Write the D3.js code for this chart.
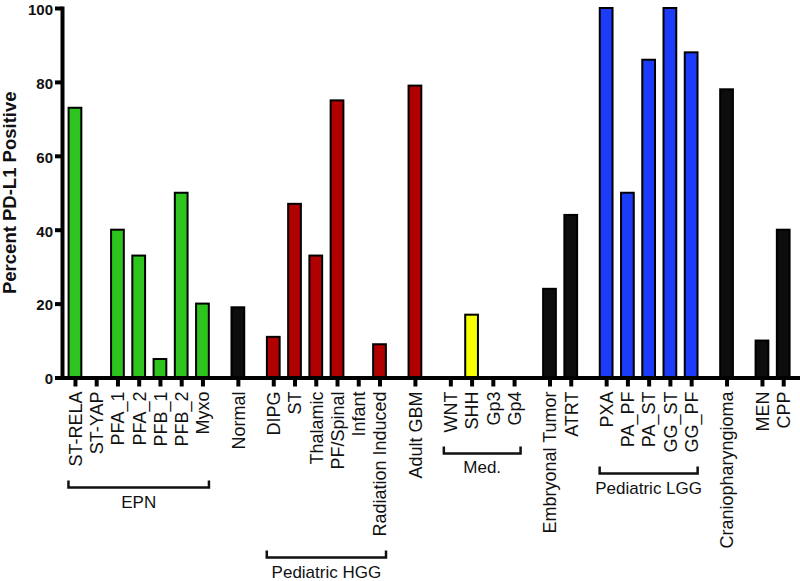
<!DOCTYPE html>
<html>
<head>
<meta charset="utf-8">
<script src="https://cdn.jsdelivr.net/npm/d3@7"></script>
<style>
  body { margin: 0; background: #fff; }
  svg { display: block; font-family: "Liberation Sans", Arial, sans-serif; }
</style>
</head>
<body>
<div id="chart"></div>
<script>
const categories = [
  "ST-RELA", "ST-YAP", "PFA_1", "PFA_2", "PFB_1", "PFB_2", "Myxo",
  "Normal",
  "DIPG", "ST", "Thalamic", "PF/Spinal", "Infant", "Radiation Induced",
  "Adult GBM",
  "WNT", "SHH", "Gp3", "Gp4",
  "Embryonal Tumor", "ATRT",
  "PXA", "PA_PF", "PA_ST", "GG_ST", "GG_PF",
  "Craniopharyngioma",
  "MEN", "CPP",
];
const percentPositive = [
  73, 0, 40, 33, 5, 50, 20,
  19,
  11, 47, 33, 75, 0, 9,
  79,
  0, 17, 0, 0,
  24, 44,
  100, 50, 86, 100, 88,
  78,
  10, 40,
];
const clusters = [
  "EPN", "EPN", "EPN", "EPN", "EPN", "EPN", "EPN",
  "Normal",
  "HGG", "HGG", "HGG", "HGG", "HGG", "HGG",
  "GBM",
  "Med", "Med", "Med", "Med",
  "Embryonal", "Embryonal",
  "LGG", "LGG", "LGG", "LGG", "LGG",
  "Cranio",
  "Other", "Other",
];
const groupNames = ["EPN", "Pediatric HGG", "Med.", "Pediatric LGG"];
const groupFirst = ["ST-RELA", "DIPG", "WNT", "PXA"];
const groupLast = ["Myxo", "Radiation Induced", "Gp4", "GG_PF"];
const yTicks = [0, 20, 40, 60, 80, 100];

const colorByCluster = {
  EPN: "#2ec41e",
  HGG: "#b10000",
  GBM: "#b10000",
  Med: "#f7ff00",
  LGG: "#1c3cfa",
  Normal: "#0d0d0d",
  Embryonal: "#0d0d0d",
  Cranio: "#0d0d0d",
  Other: "#0d0d0d",
};

const width = 800;
const height = 581;
const gapExtra = 2 / 3; // extra spacing between clusters, in bar slots

const clusterOrder = [...new Set(clusters)];
const data = categories.map((name, i) => ({
  name,
  value: percentPositive[i],
  cluster: clusters[i],
  pos: i + clusterOrder.indexOf(clusters[i]) * gapExtra,
}));
const posOf = new Map(data.map((d) => [d.name, d.pos]));
const lastPos = data[data.length - 1].pos;

const svg = d3
  .select("#chart")
  .append("svg")
  .attr("width", width)
  .attr("height", height);

const x = d3.scaleLinear().domain([-0.61, lastPos + 0.79]).range([62, 800]);
const slot = x(1) - x(0);
const y = d3.scaleLinear().domain([0, 100]).range([377.5, 8]);

const barW = slot * 0.6;

// bars
svg
  .append("g")
  .selectAll("rect")
  .data(data)
  .enter()
  .append("rect")
  .attr("x", (d) => x(d.pos) - barW / 2)
  .attr("y", (d) => y(d.value))
  .attr("width", barW)
  .attr("height", (d) => y(0) - y(d.value))
  .attr("fill", (d) => colorByCluster[d.cluster])
  .attr("stroke", "#000")
  .attr("stroke-width", 2);

// y axis
const yAxis = svg
  .append("g")
  .attr("transform", `translate(${x.range()[0]},0)`)
  .call(
    d3.axisLeft(y).tickValues(yTicks).tickSize(7).tickSizeOuter(0).tickPadding(2)
  );
yAxis.select(".domain").attr("stroke", "#000").attr("stroke-width", 4).attr("stroke-linecap", "square");
yAxis.selectAll(".tick line").attr("stroke", "#000").attr("stroke-width", 4);
yAxis
  .selectAll(".tick text")
  .attr("dy", "0.42em")
  .attr("fill", "#111")
  .style("font-size", "15px")
  .style("font-weight", "bold")
  .style("font-family", '"Liberation Sans", Arial, sans-serif');

// x axis
const xAxis = svg
  .append("g")
  .attr("transform", `translate(0,${y(0)})`)
  .call(
    d3
      .axisBottom(x)
      .tickValues(data.map((d) => d.pos))
      .tickFormat((p, i) => data[i].name)
      .tickSize(9)
      .tickSizeOuter(0)
  );
xAxis.select(".domain").attr("stroke", "#000").attr("stroke-width", 4);
xAxis.selectAll(".tick line").attr("stroke", "#000").attr("stroke-width", 4);
xAxis
  .selectAll(".tick text")
  .attr("x", 0)
  .attr("y", 0)
  .attr("dy", "0.35em")
  .attr("transform", "translate(0,14) rotate(-90)")
  .attr("fill", "#111")
  .style("text-anchor", "end")
  .style("font-size", "18px")
  .style("font-family", '"Liberation Sans", Arial, sans-serif');

const labelLen = new Map();
xAxis.selectAll(".tick text").each(function (d, i) {
  labelLen.set(data[i].name, this.getComputedTextLength());
});

// y axis title
svg
  .append("text")
  .attr("transform", `translate(16,${(y(0) + y(100)) / 2}) rotate(-90)`)
  .attr("text-anchor", "middle")
  .attr("fill", "#111")
  .style("font-size", "18.5px")
  .style("font-weight", "bold")
  .text("Percent PD-L1 Positive");

// group brackets
groupNames.forEach((name, g) => {
  const i0 = categories.indexOf(groupFirst[g]);
  const i1 = categories.indexOf(groupLast[g]);
  const members = categories.slice(i0, i1 + 1);
  const maxLen = d3.max(members, (m) => labelLen.get(m));
  const by = y(0) + 14 + maxLen + 21;
  const x0 = x(posOf.get(groupFirst[g])) - 6.5;
  const x1 = x(posOf.get(groupLast[g])) + 6.5;

  svg
    .append("path")
    .attr("d", `M${x0},${by - 7}V${by}H${x1}V${by - 7}`)
    .attr("fill", "none")
    .attr("stroke", "#111")
    .attr("stroke-width", 2.5);

  svg
    .append("text")
    .attr("x", (x0 + x1) / 2)
    .attr("y", by + 20)
    .attr("text-anchor", "middle")
    .attr("fill", "#111")
    .style("font-size", "17px")
    .text(name);
});
</script>
</body>
</html>
